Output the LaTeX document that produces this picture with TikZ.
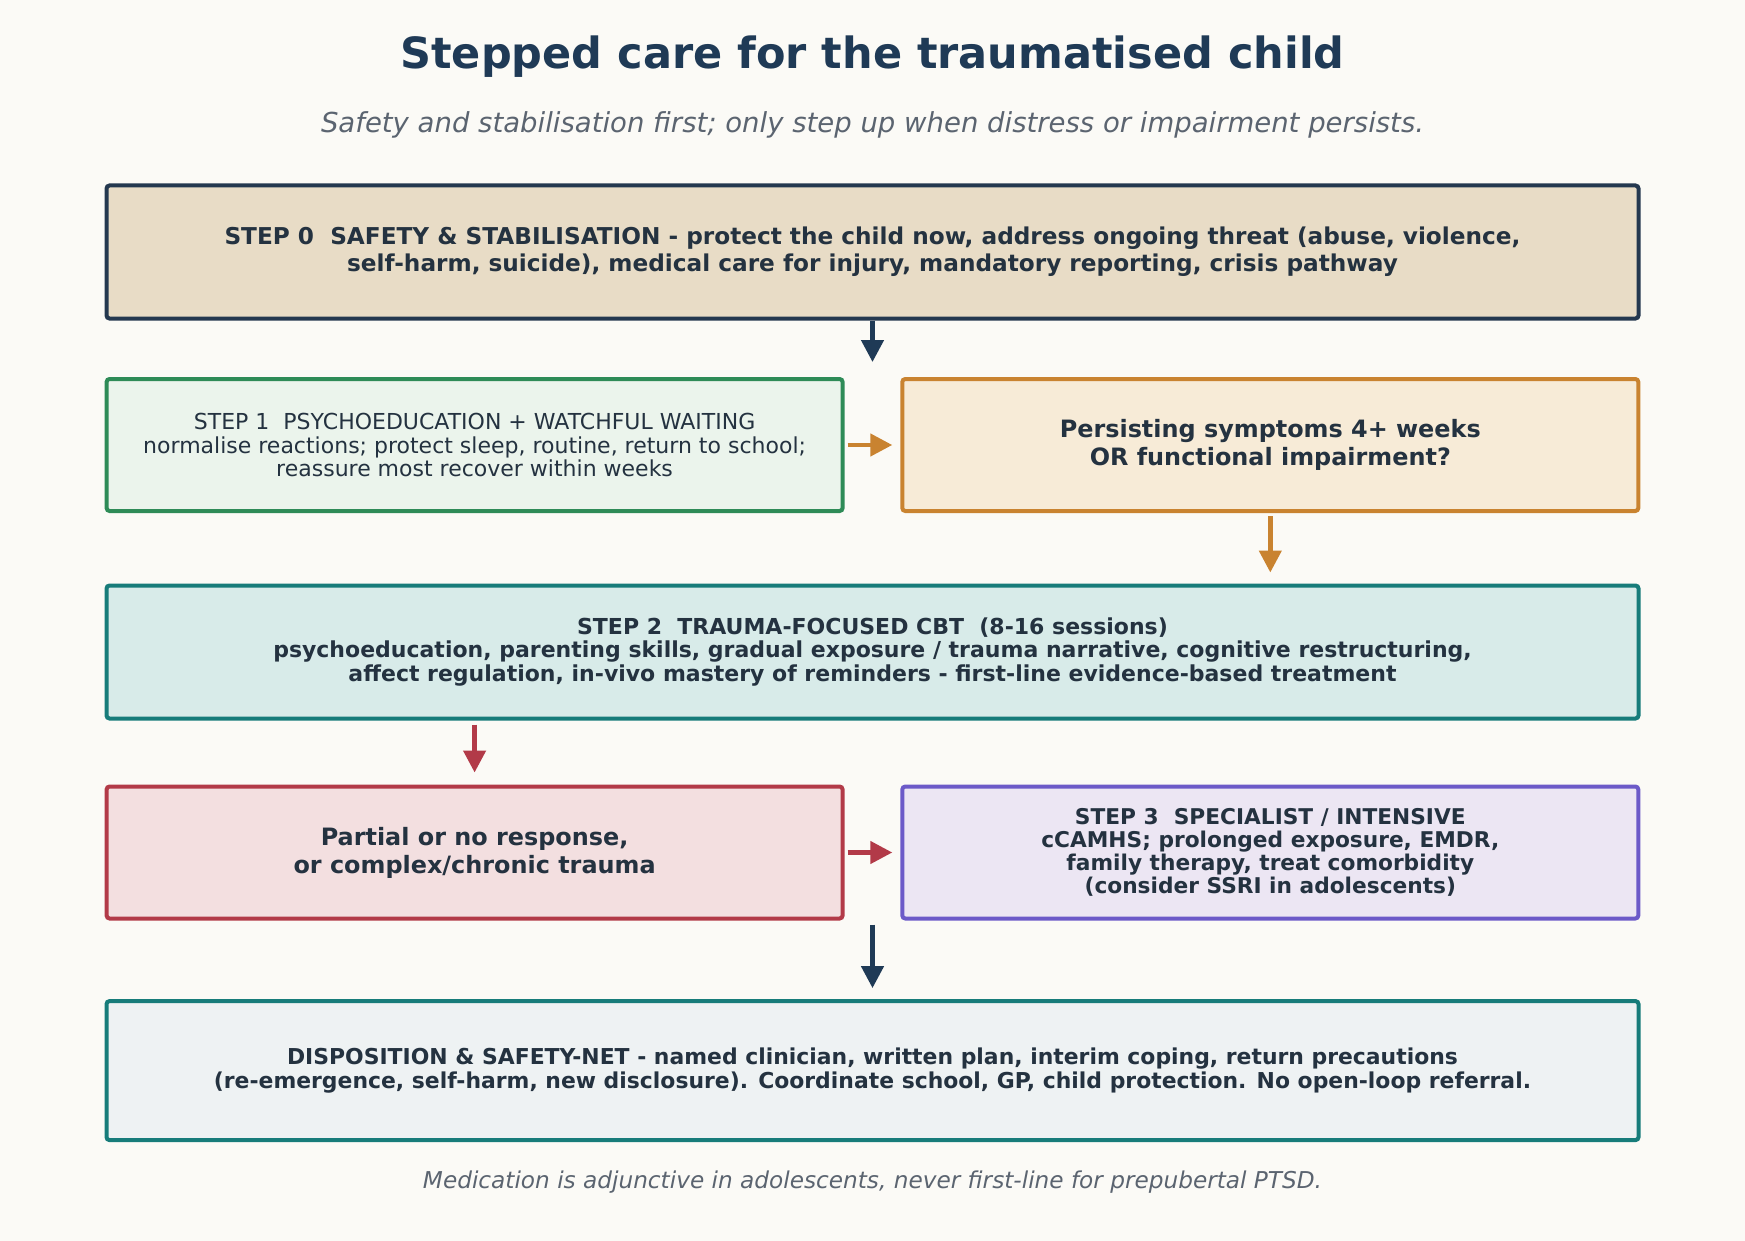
\documentclass[tikz,border=0pt]{standalone}
\usepackage{fontspec}
\setmainfont{DejaVu Sans}
\usetikzlibrary{arrows.meta}

\definecolor{bgcol}{HTML}{FBFAF6}
\definecolor{ink}{HTML}{243240}
\definecolor{titlecol}{HTML}{1F3A56}
\definecolor{subcol}{HTML}{5B6470}
\definecolor{navy}{HTML}{24384F}
\definecolor{arrnavy}{HTML}{1F3A56}
\definecolor{sand}{HTML}{E8DCC6}
\definecolor{green1}{HTML}{2E8B57}
\definecolor{greenfill}{HTML}{EBF4EC}
\definecolor{orange1}{HTML}{C98330}
\definecolor{orangefill}{HTML}{F7EBD7}
\definecolor{teal1}{HTML}{177C7A}
\definecolor{tealfill}{HTML}{D8EBE9}
\definecolor{red1}{HTML}{B23A48}
\definecolor{redfill}{HTML}{F3DFE0}
\definecolor{purple1}{HTML}{6C5AC8}
\definecolor{purplefill}{HTML}{ECE6F3}
\definecolor{greyfill}{HTML}{EEF2F3}

\tikzset{
  box/.style={draw, line width=4pt, rounded corners=3pt, align=center,
    text=ink, inner sep=0pt},
  wide/.style={box, minimum width=1532pt, minimum height=133pt},
  half/.style={box, minimum width=736pt, minimum height=132pt},
  arr/.style={line width=4.5pt, -{Triangle[length=22pt,width=22pt]}},
}

\begin{document}
\begin{tikzpicture}[x=1pt,y=1pt]
  \fill[bgcol] (0,0) rectangle (1745,-1241);
  \useasboundingbox (0,0) rectangle (1745,-1241);

  \node[text=titlecol, font=\fontsize{43}{50}\selectfont\bfseries] (title) at (872.5,-57) {Stepped care for the traumatised child};
  \node[text=subcol, font=\fontsize{27.5}{32}\selectfont\itshape] (sub) at (872.5,-125) {Safety and stabilisation first; only step up when distress or impairment persists.};

  \node[wide, fill=sand, draw=navy, font=\fontsize{23.2}{26.7}\selectfont\bfseries] (step0) at (872.5,-252)
    {STEP 0\ \ SAFETY \& STABILISATION - protect the child now, address ongoing threat (abuse, violence,\\self-harm, suicide), medical care for injury, mandatory reporting, crisis pathway};

  \node[half, fill=greenfill, draw=green1, font=\fontsize{22}{23.4}\selectfont] (step1) at (474.6,-445)
    {STEP 1\ \ PSYCHOEDUCATION + WATCHFUL WAITING\\normalise reactions; protect sleep, routine, return to school;\\reassure most recover within weeks};
  \node[half, fill=orangefill, draw=orange1, font=\fontsize{23.9}{27.8}\selectfont\bfseries] (persist) at (1270.3,-445)
    {Persisting symptoms 4+ weeks\\OR functional impairment?};

  \node[wide, fill=tealfill, draw=teal1, font=\fontsize{22}{23.4}\selectfont\bfseries] (step2) at (872.5,-652)
    {STEP 2\ \ TRAUMA-FOCUSED CBT\ \ (8-16 sessions)\\psychoeducation, parenting skills, gradual exposure / trauma narrative, cognitive restructuring,\\affect regulation, in-vivo mastery of reminders - first-line evidence-based treatment};

  \node[half, fill=redfill, draw=red1, font=\fontsize{23.9}{27.8}\selectfont\bfseries] (partial) at (474.6,-852.5)
    {Partial or no response,\\or complex/chronic trauma};
  \node[half, fill=purplefill, draw=purple1, font=\fontsize{21.7}{23}\selectfont\bfseries] (step3) at (1270.3,-852.5)
    {STEP 3\ \ SPECIALIST / INTENSIVE\\cCAMHS; prolonged exposure, EMDR,\\family therapy, treat comorbidity\\(consider SSRI in adolescents)};

  \node[wide, fill=greyfill, draw=teal1, minimum height=139pt, font=\fontsize{21.9}{23.4}\selectfont\bfseries] (disp) at (872.5,-1070.6)
    {DISPOSITION \& SAFETY-NET - named clinician, written plan, interim coping, return precautions\\(re-emergence, self-harm, new disclosure). Coordinate school, GP, child protection. No open-loop referral.};

  \node[text=subcol, font=\fontsize{23.2}{27}\selectfont\itshape] (foot) at (872.5,-1182) {Medication is adjunctive in adolescents, never first-line for prepubertal PTSD.};

  % connectors
  \coordinate (a0) at (872.5,-362);
  \draw[arr, arrnavy] (step0.south) -- (a0);
  \draw[arr, orange1, shorten <=3pt, shorten >=8pt] (step1.east) -- (persist.west);
  \draw[arr, orange1, shorten <=3pt, shorten >=11pt] (persist.south) -- (persist.south |- step2.north);
  \draw[arr, red1, shorten <=4pt, shorten >=12pt] (step2.south -| partial.north) -- (partial.north);
  \draw[arr, red1, shorten <=3pt, shorten >=8pt] (partial.east) -- (step3.west);
  \draw[arr, arrnavy, shorten <=4pt, shorten >=11pt] (disp.north |- partial.south) -- (disp.north);
\end{tikzpicture}
\end{document}
